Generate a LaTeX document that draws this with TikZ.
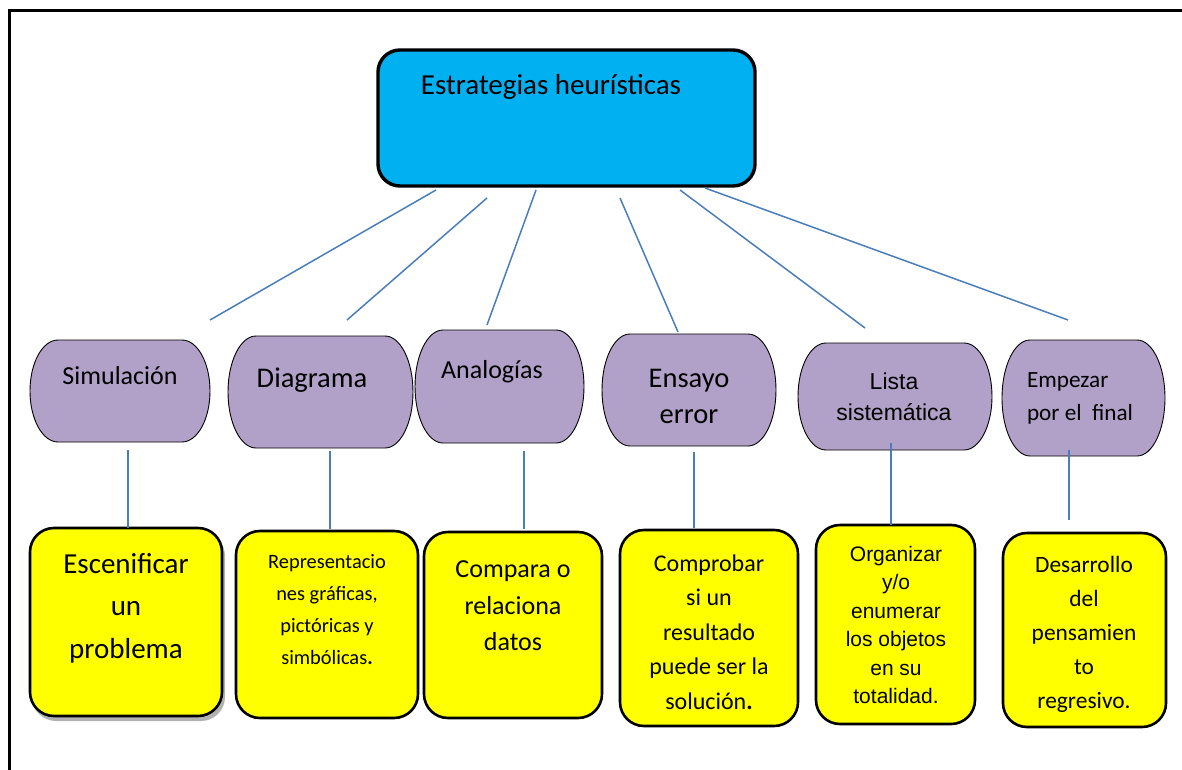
\documentclass[tikz,border=0pt]{standalone}
\usepackage{fontspec}
\setmainfont{Carlito}
\newfontfamily\arialf{Liberation Sans}
\definecolor{topblue}{HTML}{00B0F0}
\definecolor{lav}{HTML}{B1A0C7}
\definecolor{linkblue}{HTML}{4A7EBB}
\definecolor{ylw}{HTML}{FFFF00}
\newcommand{\fs}[2]{\fontsize{#1}{#2}\selectfont}
\newcommand{\lavbox}[4]{% x0 y0 x1 y1
  \pgfmathsetmacro{\rxx}{28}%
  \pgfmathsetmacro{\ryy}{(#4-#2)/2}%
  \path[lavshape] (#1+\rxx,#2) -- (#3-\rxx,#2)
    arc[start angle=-90,end angle=90,x radius=\rxx,y radius=\ryy]
    -- (#1+\rxx,#4)
    arc[start angle=90,end angle=270,x radius=\rxx,y radius=\ryy] -- cycle;}
\begin{document}
\begin{tikzpicture}[x=1pt,y=-1pt,
  link/.style={draw=linkblue,line width=1.5pt},
  lavshape/.style={draw=black,line width=0.9pt,fill=lav},
  ybox/.style={draw=black,line width=2.6pt,fill=ylw,rounded corners=24pt,inner sep=0pt},
  topbox/.style={draw=black,line width=3.4pt,fill=topblue,rounded corners=22pt,inner sep=0pt},
  txt/.style={align=center,inner sep=0pt,text=black},
  frame/.style={draw=black,line width=3pt}]
\useasboundingbox (0,0) rectangle (1182,770);
\fill[white] (0,0) rectangle (1182,770);
% frame
\draw[frame] (9,770) -- (9,11) -- (1182,11);

% top box
\node[topbox,minimum width=377pt,minimum height=136pt] (top) at (566.5,118) {};
\node[txt,font=\fs{29}{34}] (toptxt) at (551,87) {Estrategias heurísticas};

% purple boxes
\lavbox{30}{340}{210}{442}
\lavbox{228}{336}{413}{448}
\lavbox{415}{330}{584}{443}
\lavbox{602}{334}{776}{446}
\lavbox{798}{343}{992}{450}
\lavbox{1002}{340}{1165}{456}
\node[txt,font=\fs{26}{30}] (p1) at (120,376) {Simulación};
\node[txt,font=\fs{28.5}{34}] (p2) at (312,380) {Diagrama};
\node[txt,font=\fs{26}{30}] (p3) at (492,372) {Analogías};
\node[txt,font=\fs{28.5}{36}] (p4) at (689,396) {Ensayo\\error};
\node[txt,font=\arialf\fs{23}{31}] (p5) at (894,397) {Lista\\sistemática};
\node[txt,font=\fs{23.2}{33},align=left] (p6) at (1080,398) {Empezar\\por el\ \ final};

% yellow boxes
\fill[gray!60,rounded corners=24pt] (32,532) rectangle (225,721);
\node[ybox,minimum width=192pt,minimum height=188pt] (y1) at (126,622) {};
\node[ybox,minimum width=182pt,minimum height=187pt] (y2) at (327,624.5) {};
\node[ybox,minimum width=178pt,minimum height=186pt] (y3) at (513,625) {};
\node[ybox,minimum width=178pt,minimum height=196pt] (y4) at (709,628) {};
\node[ybox,minimum width=159pt,minimum height=199pt] (y5) at (895.5,624.5) {};
\node[ybox,minimum width=163pt,minimum height=194pt] (y6) at (1084.5,630) {};

\node[txt,font=\fs{29}{42.5}] (t1) at (126,608) {Escenificar\\un\\problema};
\node[txt,font=\fs{20.4}{32}] (t2) at (327,610) {Representacio\\nes gráficas,\\pictóricas y\\simbólicas\textbf{.}};
\node[txt,font=\fs{26}{36.5}] (t3) at (513,606) {Compara o\\relaciona\\datos};
\node[txt,font=\fs{24}{34.5}] (t4) at (709,632) {Comprobar\\si un\\resultado\\puede ser la\\solución\textbf{.}};
\node[txt,font=\arialf\fs{21}{28.5}] (t5) at (896,625) {Organizar\\y/o\\enumerar\\los objetos\\en su\\totalidad.};
\node[txt,font=\fs{23.4}{34}] (t6) at (1084,634) {Desarrollo\\del\\pensamien\\to\\regresivo.};

% connector endpoints
\coordinate (a1) at (436,190); \coordinate (b1) at (210,320);
\coordinate (a2) at (487,198); \coordinate (b2) at (347,320);
\coordinate (a3) at (536,190); \coordinate (b3) at (487,325);
\coordinate (a4) at (620,198); \coordinate (b4) at (678,332);
\coordinate (a5) at (680,190); \coordinate (b5) at (865,328);
\coordinate (a6) at (705,188); \coordinate (b6) at (1068,320);
\draw[link] (a1) -- (b1);
\draw[link] (a2) -- (b2);
\draw[link] (a3) -- (b3);
\draw[link] (a4) -- (b4);
\draw[link] (a5) -- (b5);
\draw[link] (a6) -- (b6);

\coordinate (c1) at (128,450); \coordinate (d1) at (128,528);
\coordinate (c2) at (330,451); \coordinate (d2) at (330,529);
\coordinate (c3) at (524,451); \coordinate (d3) at (524,529);
\coordinate (c4) at (694,452); \coordinate (d4) at (694,528);
\coordinate (c5) at (891,443); \coordinate (d5) at (891,525);
\coordinate (c6) at (1069,450); \coordinate (d6) at (1069,520);
\draw[link] (c1) -- (d1);
\draw[link] (c2) -- (d2);
\draw[link] (c3) -- (d3);
\draw[link] (c4) -- (d4);
\draw[link] (c5) -- (d5);
\draw[link] (c6) -- (d6);
\end{tikzpicture}
\end{document}
